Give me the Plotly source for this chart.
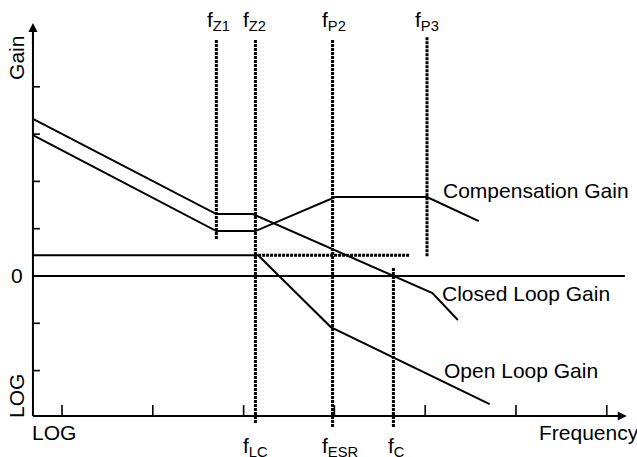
#!/usr/bin/env python3
"""
Bode plot sketch: compensation, open loop and closed loop gain
(asymptotic lines on a log-frequency axis)
"""
import plotly.graph_objects as go

# frequency axis is in decades, gain axis in arbitrary log steps
f_z1 = 2.70
f_z2 = 3.13   # same place as f_LC
f_p2 = 3.98   # same place as f_ESR
f_p3 = 5.02
f_c = 4.65

closed_x = [0.68, 2.70, 3.10, 5.08, 5.36]
closed_y = [3.32, 1.31, 1.31, -0.36, -0.93]

comp_x = [0.68, 2.70, 3.13, 4.01, 5.02, 5.59]
comp_y = [2.98, 0.95, 0.95, 1.67, 1.67, 1.16]

open_x = [0.68, 3.16, 3.96, 5.71]
open_y = [0.44, 0.44, -1.08, -2.71]

# dotted markers: (x, y_top, y_bottom)
vert_x = [f_z1, f_z2, f_p2, f_p3, f_c]
vert_top = [4.99, 4.99, 4.99, 5.05, 0.17]
vert_bottom = [0.78, -3.13, -3.21, 0.40, -3.21]
hdot_x = [3.16, 4.83]
hdot_y = [0.44, 0.44]

x_ticks = [1, 2, 3, 4, 5, 6, 7]
y_ticks = [-2, -1, 1, 2, 3, 4]

# axis frame
X0 = 0.68      # where the gain axis sits
Y0 = -2.96     # where the frequency axis sits
X_END = 7.22
Y_END = 5.35
X_RANGE = [0.317, 7.333]
Y_RANGE = [-3.827, 5.835]

FONT = dict(family="Arial, Liberation Sans, sans-serif", size=21, color="black")
SOLID = dict(color="black", width=2)
DOTTED = dict(color="black", width=3, dash="3px,1px")

fig = go.Figure()

# dotted guides
vx, vy = [], []
for x, t, b in zip(vert_x, vert_top, vert_bottom):
    vx += [x, x, None]
    vy += [t, b, None]
fig.add_trace(go.Scatter(x=vx, y=vy, mode="lines", line=DOTTED))
fig.add_trace(go.Scatter(x=hdot_x, y=hdot_y, mode="lines", line=DOTTED))

# gain curves
fig.add_trace(go.Scatter(x=closed_x, y=closed_y, mode="lines", line=SOLID))
fig.add_trace(go.Scatter(x=comp_x, y=comp_y, mode="lines", line=SOLID))
fig.add_trace(go.Scatter(x=open_x, y=open_y, mode="lines", line=SOLID))

# zero gain line
fig.add_trace(go.Scatter(x=[X0, X_END - 0.02], y=[0, 0], mode="lines", line=SOLID))

# axes + ticks
fig.add_trace(go.Scatter(x=[X0, X_END - 0.1], y=[Y0, Y0], mode="lines",
                         line=dict(color="black", width=2)))
fig.add_trace(go.Scatter(x=[X0, X0], y=[Y0, Y_END - 0.15], mode="lines",
                         line=dict(color="black", width=2)))
tx, ty = [], []
for t in x_ticks:
    tx += [t, t, None]
    ty += [Y0, Y0 + 0.23, None]
for t in y_ticks:
    tx += [X0, X0 + 0.077, None]
    ty += [t, t, None]
fig.add_trace(go.Scatter(x=tx, y=ty, mode="lines", line=dict(color="black", width=1.6)))

# arrow heads
fig.add_annotation(x=X_END, y=Y0, ax=X_END - 0.3, ay=Y0, axref="x", ayref="y",
                   xref="x", yref="y", text="", showarrow=True,
                   arrowhead=2, arrowsize=0.9, arrowwidth=2, arrowcolor="black")
fig.add_annotation(x=X0, y=Y_END, ax=X0, ay=Y_END - 0.5, axref="x", ayref="y",
                   xref="x", yref="y", text="", showarrow=True,
                   arrowhead=2, arrowsize=0.9, arrowwidth=2, arrowcolor="black")

# text labels
labels = [
    ("Gain", 0.504, 4.61, "center", -90),
    ("LOG", 0.504, -2.537, "center", -90),
    ("LOG", 0.647, -3.30, "left", 0),
    ("Frequency", 6.231, -3.30, "left", 0),
    ("0", 0.593, 0.0, "right", 0),
    ("Compensation Gain", 5.174, 1.81, "left", 0),
    ("Closed Loop Gain", 5.163, -0.37, "left", 0),
    ("Open Loop Gain", 5.185, -1.99, "left", 0),
    ("f<sub>Z1</sub>", 2.575, 5.39, "left", 0),
    ("f<sub>Z2</sub>", 2.971, 5.39, "left", 0),
    ("f<sub>P2</sub>", 3.841, 5.39, "left", 0),
    ("f<sub>P3</sub>", 4.866, 5.39, "left", 0),
    ("f<sub>LC</sub>", 2.971, -3.62, "left", 0),
    ("f<sub>ESR</sub>", 3.841, -3.62, "left", 0),
    ("f<sub>C</sub>", 4.568, -3.62, "left", 0),
]
for text, x, y, anchor, angle in labels:
    fig.add_annotation(x=x, y=y, xref="x", yref="y", text=text, showarrow=False,
                       xanchor=anchor, yanchor="middle", textangle=angle, font=FONT)

fig.update_layout(
    width=637, height=457,
    margin=dict(l=0, r=0, t=0, b=0),
    paper_bgcolor="white", plot_bgcolor="white",
    showlegend=False,
    xaxis=dict(range=X_RANGE, visible=False, fixedrange=True),
    yaxis=dict(range=Y_RANGE, visible=False, fixedrange=True),
)

# drop the default 8px page margin so the figure fills the window exactly
fig.write_html("out.html", config={"displayModeBar": False},
               post_script="document.body.style.margin = '0px';")
